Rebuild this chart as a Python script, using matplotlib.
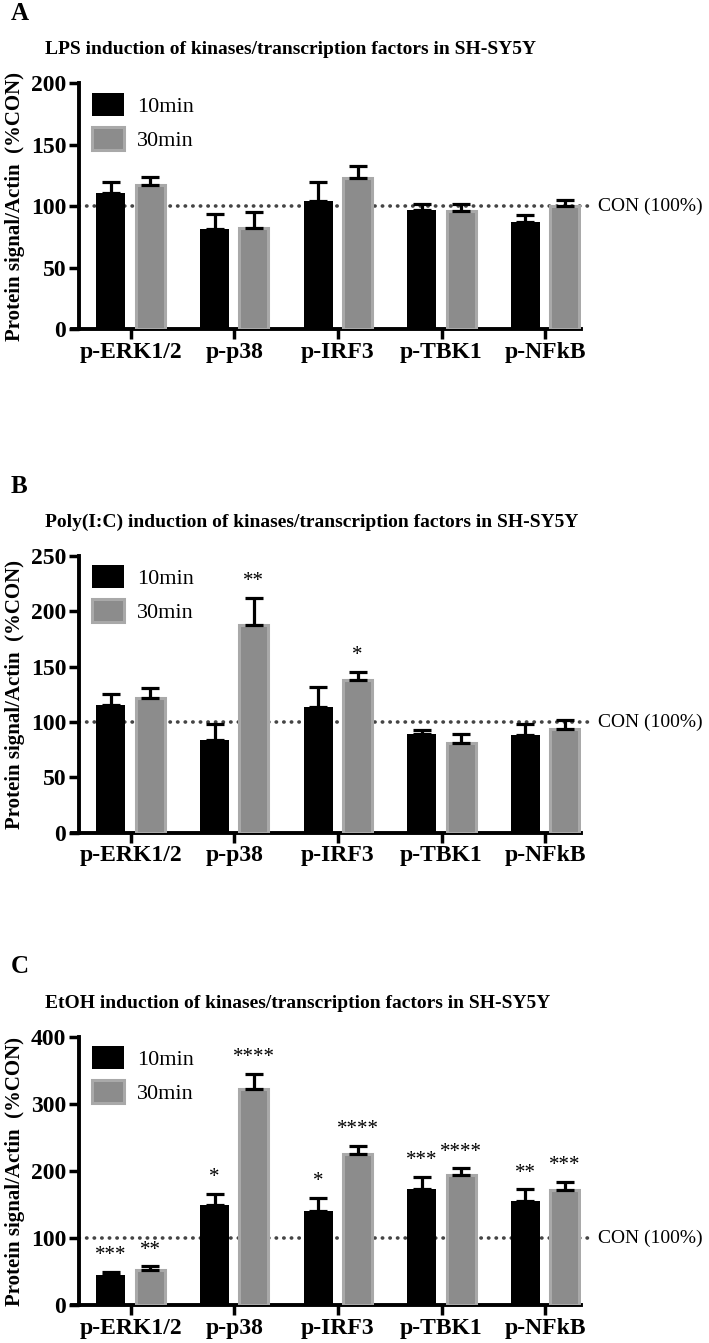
import matplotlib
matplotlib.use("Agg")
import matplotlib.pyplot as plt
import numpy as np

plt.rcParams["font.family"] = ["Liberation Serif", "DejaVu Serif"]

targets = ["p-ERK1/2", "p-p38", "p-IRF3", "p-TBK1", "p-NFkB"]
series = ["10min", "30min"]

# panel A: LPS
lps_10 = [111, 81, 104, 97, 87]
lps_10_err = [9, 13, 16, 5, 6]
lps_30 = [117, 82, 123, 96, 100]
lps_30_err = [7, 13, 10, 6, 5]
lps_sig_10 = ["", "", "", "", ""]
lps_sig_30 = ["", "", "", "", ""]

# panel B: Poly(I:C)
pic_10 = [115, 84, 114, 89, 88]
pic_10_err = [10, 14, 18, 4, 10]
pic_30 = [122, 188, 138, 81, 94]
pic_30_err = [9, 24, 7, 8, 8]
pic_sig_10 = ["", "", "", "", ""]
pic_sig_30 = ["", "**", "*", "", ""]

# panel C: EtOH
etoh_10 = [46, 149, 141, 174, 156]
etoh_10_err = [4, 17, 19, 17, 17]
etoh_30 = [52, 323, 225, 194, 172]
etoh_30_err = [6, 22, 13, 10, 12]
etoh_sig_10 = ["***", "*", "*", "***", "**"]
etoh_sig_30 = ["**", "****", "****", "****", "***"]

BLACK = "#000000"
GREY = "#8c8c8c"
GREY_EDGE = "#a9a9a9"


def draw_panel(fig, rect, letter, title, ymax, ystep, v10, e10, v30, e30, s10, s30):
    ax = fig.add_axes(rect)
    x = np.arange(len(targets))
    w = 0.28
    off = 0.19
    ax.bar(x - off, v10, w, color=BLACK, edgecolor=BLACK, linewidth=0, label=series[0], zorder=3)
    ax.bar(x + off, v30, w, color=GREY, edgecolor=GREY_EDGE, linewidth=2.2, label=series[1], zorder=3)
    ax.errorbar(x - off, v10, yerr=[np.zeros(len(v10)), e10], fmt="none",
                ecolor="black", elinewidth=2.3, capsize=6.5, capthick=2.3, zorder=4)
    ax.errorbar(x + off, v30, yerr=[np.zeros(len(v30)), e30], fmt="none",
                ecolor="black", elinewidth=2.3, capsize=6.5, capthick=2.3, zorder=4)

    pad = ymax * 0.025
    for xi, v, e, s in zip(x - off, v10, e10, s10):
        if s:
            ax.text(xi, v + e + pad, s, ha="center", va="bottom", fontsize=15)
    for xi, v, e, s in zip(x + off, v30, e30, s30):
        if s:
            ax.text(xi, v + e + pad, s, ha="center", va="bottom", fontsize=15)

    xmin, xmax = -0.57, 4.35
    ax.plot([-0.5, xmax + 0.12], [100, 100], linestyle=(0, (0.1, 2.0)), color="#444444",
            linewidth=2.6, dash_capstyle="round", clip_on=False, zorder=2)
    ax.text(xmax + 0.16, 100, "CON (100%)", ha="left", va="center", fontsize=14)

    ax.set_xlim(xmin, xmax)
    ax.set_ylim(0, ymax)
    ax.spines["left"].set_position(("data", -0.5))
    ax.set_yticks(np.arange(0, ymax + 1, ystep))
    ax.set_xticks(x)
    ax.set_xticklabels(targets, fontweight="bold", fontsize=17)
    for t in ax.get_yticklabels():
        t.set_fontweight("bold")
        t.set_fontsize(17)
    ax.tick_params(axis="both", direction="out", width=2.5, length=7, pad=2)

    for a in ["right", "top"]:
        ax.spines[a].set_visible(False)
    for a in ["left", "bottom"]:
        ax.spines[a].set_linewidth(2.8)

    ax.set_ylabel("Protein signal/Actin  (%CON)", fontweight="bold", fontsize=15, labelpad=4)

    ax.legend(loc="upper left", bbox_to_anchor=(0.0, 1.04), frameon=False,
              fontsize=16, handlelength=1.45, handleheight=1.2, handletextpad=0.6,
              labelspacing=0.45)

    fig.text(0.015, rect[1] + rect[3] + 0.052, letter, fontweight="bold", fontsize=18,
             ha="left", va="center")
    fig.text(0.063, rect[1] + rect[3] + 0.025, title, fontweight="bold", fontsize=14,
             ha="left", va="center")
    return ax


fig = plt.figure(figsize=(7.09, 13.43), dpi=100)

draw_panel(fig, [0.101, 0.755, 0.719, 0.183], "A",
           "LPS induction of kinases/transcription factors in SH-SY5Y",
           200, 50, lps_10, lps_10_err, lps_30, lps_30_err, lps_sig_10, lps_sig_30)
draw_panel(fig, [0.101, 0.380, 0.719, 0.206], "B",
           "Poly(I:C) induction of kinases/transcription factors in SH-SY5Y",
           250, 50, pic_10, pic_10_err, pic_30, pic_30_err, pic_sig_10, pic_sig_30)
draw_panel(fig, [0.101, 0.028, 0.719, 0.200], "C",
           "EtOH induction of kinases/transcription factors in SH-SY5Y",
           400, 100, etoh_10, etoh_10_err, etoh_30, etoh_30_err, etoh_sig_10, etoh_sig_30)

fig.savefig("out.png", dpi=100)
